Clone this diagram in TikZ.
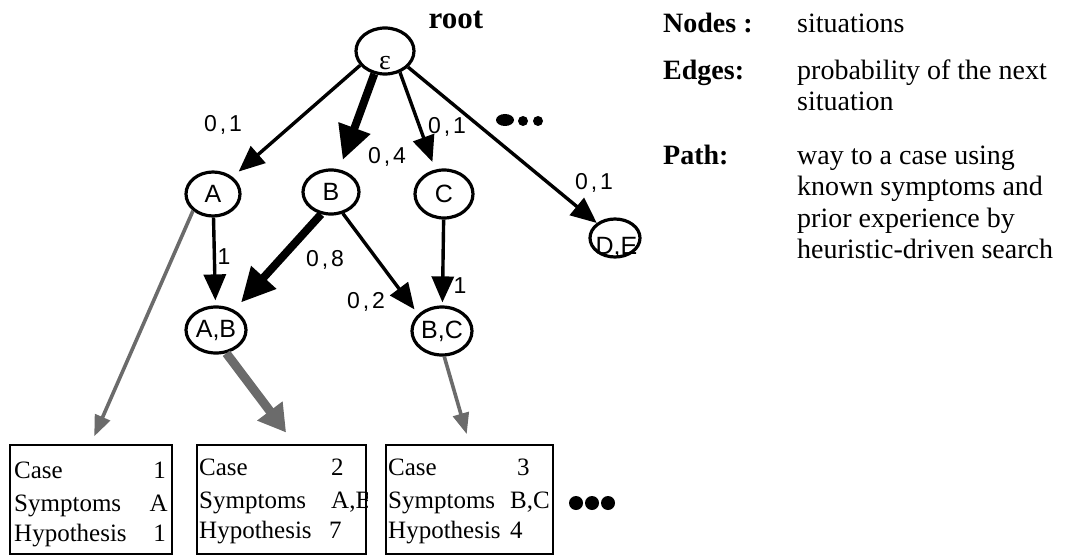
\documentclass[tikz,border=0pt]{standalone}
\usepackage{fontspec}
\setmainfont{Liberation Serif}
\newfontfamily\sansf{Liberation Sans}
\usetikzlibrary{arrows.meta,shapes.geometric}
\begin{document}
\begin{tikzpicture}[x=1pt,y=-1pt,
  sit/.style={ellipse, draw, line width=3.2pt, inner sep=0pt, font=\sansf\fontsize{25}{25}\selectfont},
  conn/.style={line width=3.4pt, -{Triangle[length=26pt,width=22pt]}},
  heavy/.style={line width=8pt, -{Triangle[length=34pt,width=32pt]}},
  gline/.style={draw=black!58, line width=3.6pt, -{Triangle[length=21pt,width=16pt]}},
  gheavy/.style={draw=black!58, line width=9pt, -{Triangle[length=27pt,width=30pt]}},
  prob/.style={font=\sansf\fontsize{23}{23}\selectfont, inner sep=0pt},
  casebox/.style={draw, line width=2.6pt, inner sep=0pt, minimum height=109pt},
  boxtxt/.style={font=\fontsize{25}{25}\selectfont, inner sep=0pt, anchor=base west},
  boxval/.style={font=\fontsize{25}{25}\selectfont, inner sep=0pt, anchor=base west},
  legkey/.style={font=\bfseries\fontsize{28}{28}\selectfont, inner sep=0pt, anchor=base west},
  legtxt/.style={font=\fontsize{28}{28}\selectfont, inner sep=0pt, anchor=base west},
]
\useasboundingbox (0,0) rectangle (1065,556);

% situation nodes
\node[sit, minimum width=58pt, minimum height=46pt] (eps) at (385,51)
  {\raisebox{-19pt}[0pt][0pt]{\makebox[0pt]{\rmfamily\fontsize{28}{28}\selectfont ε}}};
\node[sit, minimum width=54pt, minimum height=44pt] (A) at (213,194) {\makebox[0pt]{A}};
\node[sit, minimum width=56pt, minimum height=44pt] (B) at (331,192) {\makebox[0pt]{B}};
\node[sit, minimum width=58pt, minimum height=48pt] (C) at (444,194) {\makebox[0pt]{C}};
\node[sit, minimum width=50pt, minimum height=38pt] (DE) at (615,238)
  {\raisebox{-16pt}[0pt][0pt]{\makebox[0pt]{\hspace{3pt}D,E}}};
\node[sit, minimum width=60pt, minimum height=46pt] (AB) at (216,330) {\makebox[0pt]{A,B}};
\node[sit, minimum width=60pt, minimum height=48pt] (BC) at (442,331) {\makebox[0pt]{B,C}};

\node[font=\bfseries\fontsize{31}{31}\selectfont, inner sep=0pt] (root) at (456,20) {root};

% case boxes
\node[casebox, minimum width=162pt] (box1) at (91,499.5) {};
\node[casebox, minimum width=169pt] (box2) at (281.5,499.5) {};
\node[casebox, minimum width=167pt] (box3) at (469.5,499.5) {};

% edges
\draw[conn, shorten >=8pt] (eps.210) -- (A);
\draw[heavy, shorten >=10pt] (eps.245) -- (B);
\draw[conn, shorten >=8pt] (eps.-55) -- (C);
\draw[conn] (eps.-35) -- (DE);
\draw[conn, shorten >=5pt] (A) -- (AB);
\draw[heavy, shorten >=10pt] (B.246) -- (AB);
\draw[conn, shorten >=6pt] (B.-61) -- (BC.145);
\draw[conn, shorten >=3pt] (C) -- (BC);

% paths to cases
\draw[gline, shorten >=8pt] (A.220) -- (box1.north);
\draw[gheavy, shorten >=14pt] (AB.-66) -- ([xshift=13pt]box2.north);
\draw[gline, shorten >=10pt] (BC.-85) -- (box3.north);

% probabilities
\node[prob] (p1) at (223,125) {0\hspace{3pt},\hspace{3pt}1};
\node[prob] (p2) at (387,157) {0\hspace{3pt},\hspace{3pt}4};
\node[prob] (p3) at (447,127) {0\hspace{3pt},\hspace{3pt}1};
\node[prob] (p4) at (594,183) {0\hspace{3pt},\hspace{3pt}1};
\node[prob] (p5) at (224,257) {1};
\node[prob] (p6) at (325,260) {0\hspace{3pt},\hspace{3pt}8};
\node[prob] (p7) at (366,302) {0\hspace{3pt},\hspace{3pt}2};
\node[prob] (p8) at (460,286) {1};

% continuation dots
\fill (505,120) ellipse (9 and 6);
\fill (523,121) circle (5);
\fill (538,121) circle (5);
\fill (576,503) circle (7);
\fill (592,503) circle (7);
\fill (608,503) circle (7);

% box 1 text
\node[boxtxt] (c1a) at (14,478) {Case};
\node[boxtxt] (c1b) at (14,511) {Symptoms};
\node[boxtxt] (c1c) at (14,541) {Hypothesis};
\node[boxval, anchor=base east] (v1a) at (166,478) {1};
\node[boxval, anchor=base east] (v1b) at (168,511) {A};
\node[boxval, anchor=base east] (v1c) at (166,541) {1};

% box 2 text
\begin{scope}
\clip (box2.north west) rectangle (box2.south east);
\node[boxtxt] (c2a) at (199,475) {Case};
\node[boxtxt] (c2b) at (199,508) {Symptoms};
\node[boxtxt] (c2c) at (199,538) {Hypothesis};
\node[boxval] (v2a) at (331,475) {2};
\node[boxval] (v2b) at (331,508) {A,B};
\node[boxval] (v2c) at (329,538) {7};
\end{scope}

% box 3 text
\begin{scope}
\clip (box3.north west) rectangle (box3.south east);
\node[boxtxt] (c3a) at (388,475) {Case};
\node[boxtxt] (c3b) at (388,508) {Symptoms};
\node[boxtxt] (c3c) at (388,538) {Hypothesis};
\node[boxval] (v3a) at (517,475) {3};
\node[boxval] (v3b) at (510,508) {B,C};
\node[boxval] (v3c) at (510,538) {4};
\end{scope}

% legend
\node[legkey] (k1) at (663,33) {Nodes :};
\node[legtxt] (d1) at (797,33) {situations};
\node[legkey] (k2) at (663,80) {Edges:};
\node[legtxt] (d2a) at (797,80) {probability of the next};
\node[legtxt] (d2b) at (797,111) {situation};
\node[legkey] (k3) at (663,165) {Path:};
\node[legtxt] (d3a) at (797,165) {way to a case using};
\node[legtxt] (d3b) at (797,196) {known symptoms and};
\node[legtxt] (d3c) at (797,227) {prior experience by};
\node[legtxt] (d3d) at (797,258) {heuristic-driven search};
\end{tikzpicture}
\end{document}
